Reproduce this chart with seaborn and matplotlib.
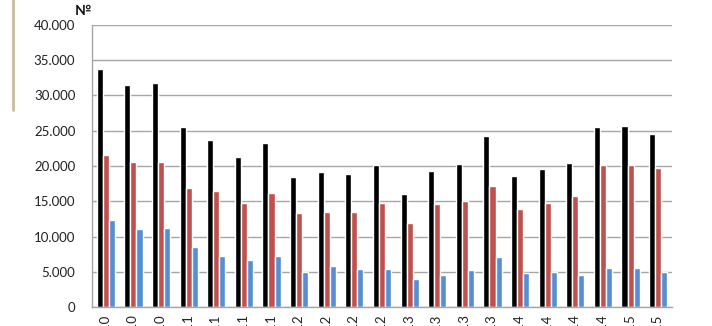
import pandas as pd
import matplotlib
matplotlib.use("Agg")
import matplotlib.pyplot as plt
import matplotlib.ticker as mticker
from matplotlib.lines import Line2D
import seaborn as sns

# Quarter labels (only the last character survives the crop at the bottom)
periods = ["II 2010", "III 2010", "IV 2010",
           "I 2011", "II 2011", "III 2011", "IV 2011",
           "I 2012", "II 2012", "III 2012", "IV 2012",
           "I 2013", "II 2013", "III 2013", "IV 2013",
           "I 2014", "II 2014", "III 2014", "IV 2014",
           "I 2015", "II 2015"]

series_names = ["Series 1", "Series 2", "Series 3"]

total = [33700, 31500, 31800, 25500, 23700, 21300, 23200,
         18400, 19100, 18800, 20100, 16000, 19300, 20300, 24200,
         18600, 19600, 20400, 25600, 25700, 24500]
middle = [21500, 20500, 20600, 16900, 16400, 14700, 16100,
          13400, 13500, 13500, 14800, 11900, 14600, 15000, 17200,
          13900, 14700, 15800, 20100, 20200, 19700]
low = [12300, 11000, 11200, 8500, 7300, 6600, 7200,
       5000, 5800, 5400, 5400, 4000, 4600, 5200, 7100,
       4800, 4900, 4600, 5500, 5600, 4900]

colors = ["#000000", "#c0504d", "#558ed5"]

df = pd.DataFrame({
    "period": periods * 3,
    "series": [series_names[0]] * len(periods) + [series_names[1]] * len(periods)
              + [series_names[2]] * len(periods),
    "value": total + middle + low,
})

sns.set_style("white")
plt.rcParams["font.family"] = ["Lato", "DejaVu Sans"]

fig = plt.figure(figsize=(7.12, 3.26), dpi=100)
ax = fig.add_axes([92 / 712, 1 - 307 / 326, 580 / 712, 282 / 326])

sns.barplot(data=df, x="period", y="value", hue="series", palette=colors,
            width=0.66, gap=0, saturation=1, legend=False, ax=ax)

ax.set_ylim(0, 40000)
ax.set_xlim(-0.5, len(periods) - 0.5)
ax.yaxis.set_major_locator(mticker.MultipleLocator(5000))
ax.yaxis.set_major_formatter(
    mticker.FuncFormatter(lambda v, p: "0" if v == 0 else f"{int(v):,}".replace(",", ".")))
ax.grid(axis="y", color="#a6a6a6", linewidth=1)
ax.set_axisbelow(True)

for side in ["top", "right"]:
    ax.spines[side].set_visible(False)
for side in ["left", "bottom"]:
    ax.spines[side].set_color("#a6a6a6")
    ax.spines[side].set_linewidth(1)

ax.tick_params(axis="y", length=0, pad=12, labelsize=9.5, colors="#222222")
ax.tick_params(axis="x", length=0, pad=6, labelsize=9.5, colors="#222222")
plt.setp(ax.get_xticklabels(), rotation=90, va="top", ha="center")
ax.set_xlabel("")
ax.set_ylabel("")

fig.text(83 / 712, 1 - 11 / 326, "№", fontsize=10, fontweight="bold",
         ha="center", va="center", color="#111111")

# decorative vertical rule at the left edge
fig.add_artist(Line2D([13 / 712, 13 / 712], [1 - 110 / 326, 1.0],
                      transform=fig.transFigure, color="#c8bd9c", linewidth=2))

fig.savefig("out.png", dpi=100)
